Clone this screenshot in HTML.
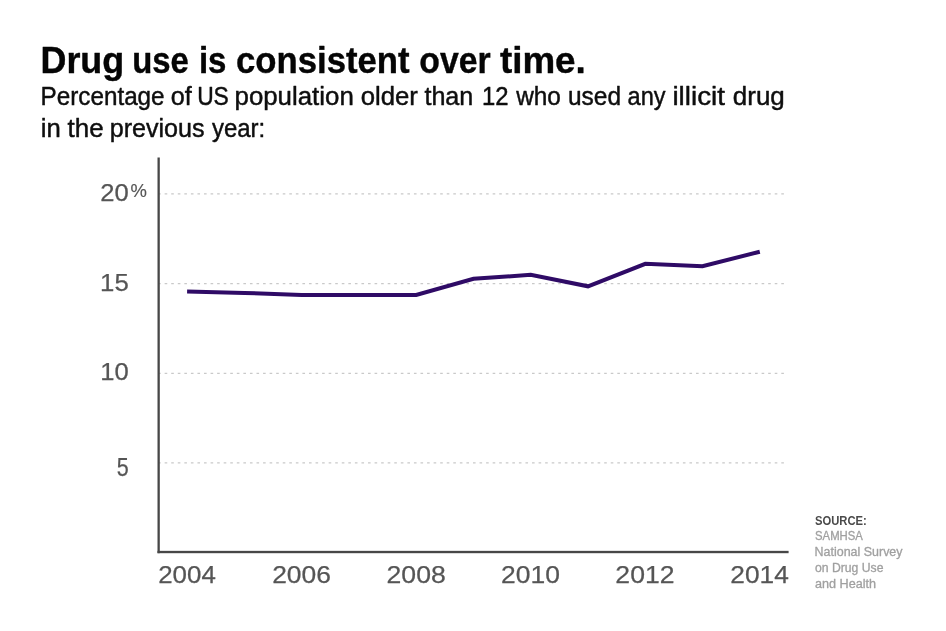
<!DOCTYPE html>
<html lang="en">
<head>
<meta charset="utf-8">
<title>Drug use is consistent over time.</title>
<style>
  html, body { margin: 0; padding: 0; background: #ffffff; }
  body { width: 946px; height: 631px; overflow: hidden; }
  svg { display: block; font-family: "Liberation Sans", sans-serif; font-kerning: none; }
  .title { font-size: 37.6px; fill: #050505; font-weight: bold; stroke: #050505; stroke-width: 0.4px; stroke-linejoin: round; }
  .sub { font-size: 25.6px; fill: #0e0e0e; stroke: #0e0e0e; stroke-width: 0.45px; stroke-linejoin: round; }
  .tick { font-size: 24.6px; fill: #555555; stroke: #555555; stroke-width: 0.25px; stroke-linejoin: round; }
  .tick5 { font-size: 26.4px; fill: #555555; stroke: #555555; stroke-width: 0.25px; stroke-linejoin: round; }
  .pct { font-size: 18.7px; fill: #555555; stroke: #555555; stroke-width: 0.15px; stroke-linejoin: round; }
  .srch { font-size: 12.0px; fill: #4a4a4a; font-weight: bold; }
  .src { font-size: 12.3px; fill: #a0a0a0; stroke: #a0a0a0; stroke-width: 0.3px; stroke-linejoin: round; }
  .grid { stroke: #c9c9c9; stroke-width: 1.3; stroke-dasharray: 2.6 3.96; fill: none; }
  .axis { fill: #474747; }
  .line { fill: none; stroke: #2f0b66; stroke-width: 4; stroke-linejoin: miter; stroke-linecap: butt; }
</style>
</head>
<body>
<svg width="946" height="631" viewBox="0 0 946 631">
  <rect x="0" y="0" width="946" height="631" fill="#ffffff"/>
  <text class="title"><tspan x="40.50" y="73.20" textLength="83.70" lengthAdjust="spacingAndGlyphs">Drug</tspan> <tspan x="132.16" y="73.20" textLength="56.66" lengthAdjust="spacingAndGlyphs">use</tspan> <tspan x="198.89" y="73.20" textLength="27.56" lengthAdjust="spacingAndGlyphs">is</tspan> <tspan x="236.04" y="73.20" textLength="173.58" lengthAdjust="spacingAndGlyphs">consistent</tspan> <tspan x="419.28" y="73.20" textLength="71.43" lengthAdjust="spacingAndGlyphs">over</tspan> <tspan x="499.95" y="73.20" textLength="85.88" lengthAdjust="spacingAndGlyphs">time.</tspan></text>
  <text class="sub"><tspan x="40.61" y="105.10" textLength="123.97" lengthAdjust="spacingAndGlyphs">Percentage</tspan> <tspan x="170.64" y="105.10" textLength="21.02" lengthAdjust="spacingAndGlyphs">of</tspan> <tspan x="197.14" y="105.10" textLength="31.71" lengthAdjust="spacingAndGlyphs">US</tspan> <tspan x="234.53" y="105.10" textLength="119.24" lengthAdjust="spacingAndGlyphs">population</tspan> <tspan x="360.72" y="105.10" textLength="57.21" lengthAdjust="spacingAndGlyphs">older</tspan> <tspan x="424.42" y="105.10" textLength="48.91" lengthAdjust="spacingAndGlyphs">than</tspan> <tspan x="481.88" y="105.10" textLength="26.51" lengthAdjust="spacingAndGlyphs">12</tspan> <tspan x="516.14" y="105.10" textLength="44.69" lengthAdjust="spacingAndGlyphs">who</tspan> <tspan x="568.01" y="105.10" textLength="53.07" lengthAdjust="spacingAndGlyphs">used</tspan> <tspan x="627.60" y="105.10" textLength="37.95" lengthAdjust="spacingAndGlyphs">any</tspan> <tspan x="672.44" y="105.10" textLength="52.57" lengthAdjust="spacingAndGlyphs">illicit</tspan> <tspan x="732.81" y="105.10" textLength="51.96" lengthAdjust="spacingAndGlyphs">drug</tspan> <tspan x="40.78" y="136.50" textLength="19.99" lengthAdjust="spacingAndGlyphs">in</tspan> <tspan x="67.61" y="136.50" textLength="36.04" lengthAdjust="spacingAndGlyphs">the</tspan> <tspan x="109.68" y="136.50" textLength="94.93" lengthAdjust="spacingAndGlyphs">previous</tspan> <tspan x="211.94" y="136.50" textLength="53.25" lengthAdjust="spacingAndGlyphs">year:</tspan></text>
  <g class="grid">
    <line x1="158.1" y1="193.8" x2="786" y2="193.8"/>
    <line x1="158.1" y1="283.6" x2="786" y2="283.6"/>
    <line x1="158.1" y1="373.3" x2="786" y2="373.3"/>
    <line x1="158.1" y1="462.8" x2="786" y2="462.8"/>
  </g>
  <polyline class="line" points="187.1,291.6 244.4,292.9 301.6,294.9 358.9,295.0 416.2,295.0 473.5,278.8 530.7,274.8 588.0,286.3 645.3,263.8 702.5,266.3 759.8,251.7"/>
  <rect class="axis" x="157.5" y="157.5" width="2.3" height="395.7"/>
  <rect class="axis" x="157.5" y="550.85" width="631.1" height="2.35"/>
  <g id="yticks">
    <text class="tick"><tspan x="100.21" y="201.20" textLength="28.49" lengthAdjust="spacingAndGlyphs">20</tspan><tspan class="pct" x="130.54" y="197.40" textLength="16.42" lengthAdjust="spacingAndGlyphs">%</tspan></text>
    <text class="tick" x="100.14" y="290.60" textLength="28.64" lengthAdjust="spacingAndGlyphs">15</text>
    <text class="tick" x="100.25" y="379.60" textLength="28.45" lengthAdjust="spacingAndGlyphs">10</text>
    <text class="tick5" x="116.64" y="476.30" textLength="11.96" lengthAdjust="spacingAndGlyphs">5</text>
  </g>
  <g id="xticks">
    <text class="tick" x="158.20" y="583.30" textLength="57.66" lengthAdjust="spacingAndGlyphs">2004</text>
    <text class="tick" x="272.17" y="583.30" textLength="58.79" lengthAdjust="spacingAndGlyphs">2006</text>
    <text class="tick" x="386.56" y="583.30" textLength="59.19" lengthAdjust="spacingAndGlyphs">2008</text>
    <text class="tick" x="501.07" y="583.30" textLength="58.86" lengthAdjust="spacingAndGlyphs">2010</text>
    <text class="tick" x="615.36" y="583.30" textLength="59.18" lengthAdjust="spacingAndGlyphs">2012</text>
    <text class="tick" x="730.38" y="583.30" textLength="58.49" lengthAdjust="spacingAndGlyphs">2014</text>
  </g>
  <g id="source">
    <text class="srch" x="814.98" y="524.50" textLength="51.80" lengthAdjust="spacingAndGlyphs">SOURCE:</text>
    <text class="src"><tspan x="815.09" y="540.30" textLength="47.74" lengthAdjust="spacingAndGlyphs">SAMHSA</tspan> <tspan x="814.58" y="556.00" textLength="87.95" lengthAdjust="spacingAndGlyphs">National Survey</tspan> <tspan x="815.09" y="571.90" textLength="68.35" lengthAdjust="spacingAndGlyphs">on Drug Use</tspan> <tspan x="815.06" y="587.60" textLength="61.06" lengthAdjust="spacingAndGlyphs">and Health</tspan></text>
  </g>
</svg>
</body>
</html>
